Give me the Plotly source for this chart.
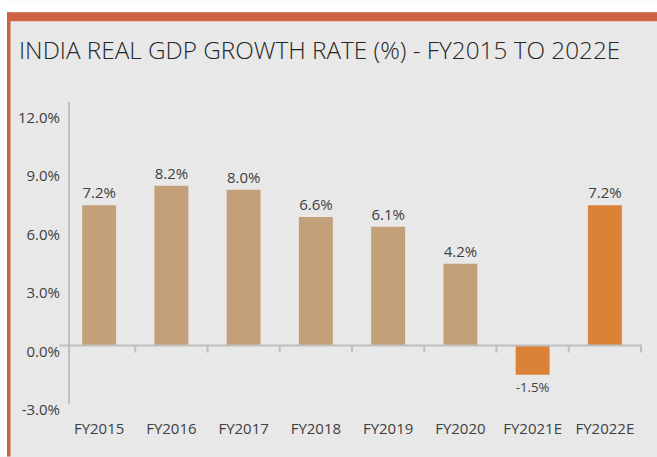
import plotly.graph_objects as go

categories = ["FY2015", "FY2016", "FY2017", "FY2018", "FY2019", "FY2020", "FY2021E", "FY2022E"]
growth = [7.2, 8.2, 8.0, 6.6, 6.1, 4.2, -1.5, 7.2]
bar_colors = ["#C4A07A"] * 6 + ["#DB8236"] * 2
y_ticks = [-3, 0, 3, 6, 9, 12]
y_tick_labels = ["-3.0%", "0.0%", "3.0%", "6.0%", "9.0%", "12.0%"]

W_PX, H_PX = 657, 457
PLOT_LEFT, PLOT_RIGHT, PLOT_TOP, PLOT_BOTTOM = 63, 642, 102, 404.5
M_L = PLOT_LEFT
M_R = W_PX - PLOT_RIGHT
M_T = PLOT_TOP
M_B = H_PX - PLOT_BOTTOM
PLOT_W = W_PX - M_L - M_R
PLOT_H = H_PX - M_T - M_B


def px_x(px: float) -> float:
    return (px - M_L) / PLOT_W


def px_y(py: float) -> float:
    return (H_PX - M_B - py) / PLOT_H


fig = go.Figure(
    go.Bar(
        x=categories,
        y=growth,
        marker={"color": bar_colors, "line": {"width": 0}},
        width=0.47,
        text=growth,
        texttemplate="%{y:.1f}%",
        textposition="outside",
        textfont={"family": "Open Sans", "size": 15, "color": "#404040"},
        cliponaxis=False,
        hoverinfo="skip",
    )
)

# frame: white strips, orange header band and left edge
shapes = [
    dict(type="rect", xref="paper", yref="paper", x0=px_x(0), x1=px_x(W_PX), y0=px_y(0), y1=px_y(12),
         fillcolor="white", line={"width": 0}, layer="below"),
    dict(type="rect", xref="paper", yref="paper", x0=px_x(0), x1=px_x(7), y0=px_y(0), y1=px_y(H_PX),
         fillcolor="white", line={"width": 0}, layer="below"),
    dict(type="rect", xref="paper", yref="paper", x0=px_x(7), x1=px_x(W_PX), y0=px_y(12), y1=px_y(21),
         fillcolor="#CD6244", line={"width": 0}, layer="below"),
    dict(type="rect", xref="paper", yref="paper", x0=px_x(7), x1=px_x(10.5), y0=px_y(12), y1=px_y(H_PX),
         fillcolor="#CD6244", line={"width": 0}, layer="below"),
    # y axis line
    dict(type="line", xref="paper", yref="paper", x0=px_x(69), x1=px_x(69), y0=0, y1=1,
         line={"color": "#BFBFBF", "width": 2}),
    # x axis line at zero
    dict(type="line", xref="paper", yref="y", x0=px_x(59), x1=1, y0=0, y1=0,
         line={"color": "#BFBFBF", "width": 2}),
]
for i in range(1, len(categories) + 1):
    shapes.append(
        dict(type="line", xref="x", yref="y", ysizemode="pixel", yanchor=0,
             x0=i - 0.5, x1=i - 0.5, y0=0, y1=-7,
             line={"color": "#BFBFBF", "width": 2})
    )

fig.update_layout(
    width=W_PX,
    height=H_PX,
    margin={"l": M_L, "r": M_R, "t": M_T, "b": M_B, "pad": 0, "autoexpand": False},
    paper_bgcolor="#E8E8E8",
    plot_bgcolor="rgba(0,0,0,0)",
    showlegend=False,
    shapes=shapes,
    title={
        "text": "INDIA REAL GDP GROWTH RATE (%) - FY2015 TO 2022E",
        "x": 19 / W_PX,
        "xanchor": "left",
        "xref": "container",
        "y": 1 - 50 / H_PX,
        "yanchor": "middle",
        "yref": "container",
        "pad": {"t": 0, "b": 0, "l": 0, "r": 0},
        "font": {"family": "Open Sans", "size": 24.3, "color": "#262626", "weight": 300},
    },
    font={"family": "Open Sans", "color": "#404040"},
)

fig.update_xaxes(
    showline=False,
    showgrid=False,
    zeroline=False,
    ticks="",
    automargin=False,
    tickfont={"size": 15, "color": "#404040"},
    ticklabelstandoff=14,
)
fig.update_yaxes(
    range=[-3, 12.5],
    tickvals=y_ticks,
    ticktext=y_tick_labels,
    showgrid=False,
    zeroline=False,
    showline=False,
    ticks="",
    automargin=False,
    tickfont={"size": 15, "color": "#404040"},
    ticklabelshift=6,
    ticklabelstandoff=2,
)

# the page body has a default 8px margin; remove it so the figure fills the window
fig.write_html(
    "out.html",
    config={"displayModeBar": False, "staticPlot": True},
    post_script="document.body.style.margin = '0';",
)
